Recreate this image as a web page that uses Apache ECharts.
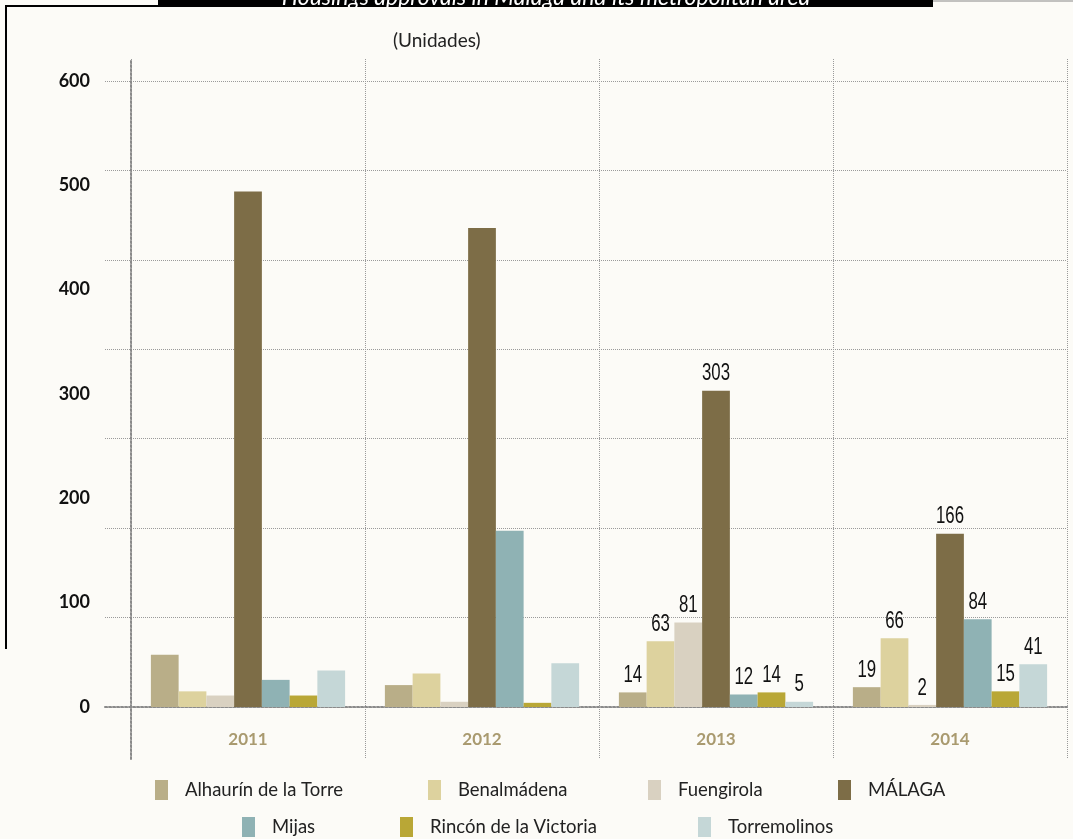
<!DOCTYPE html>
<html>
<head>
<meta charset="utf-8">
<script src="https://cdn.jsdelivr.net/npm/echarts@6/dist/echarts.min.js"></script>
<style>
html,body{margin:0;padding:0;background:#fcfbf7;}
#chart{width:1073px;height:839px;}
</style>
</head>
<body>
<div id="chart"></div>
<script>
// ---- data ----
var categories = ['2011', '2012', '2013', '2014'];
var seriesNames = ['Alhaurín de la Torre', 'Benalmádena', 'Fuengirola', 'MÁLAGA', 'Mijas', 'Rincón de la Victoria', 'Torremolinos'];
var alhaurin = [50, 21, 14, 19];
var benalmadena = [15, 32, 63, 66];
var fuengirola = [11, 5, 81, 2];
var malaga = [494, 459, 303, 166];
var mijas = [26, 169, 12, 84];
var rincon = [11, 4, 14, 15];
var torremolinos = [35, 42, 5, 41];
var labelledYears = ['2013', '2014'];
var yTicks = [0, 100, 200, 300, 400, 500, 600];

var colors = ['#b9ae88', '#ddd29e', '#d9d1c1', '#7d6d47', '#8fb2b4', '#b9a736', '#c5d7d7'];
var values = [alhaurin, benalmadena, fuengirola, malaga, mijas, rincon, torremolinos];
var BAR_CAT_GAP = 0.17;

var chart = echarts.init(document.getElementById('chart'), null, {renderer: 'canvas'});

var dotted = {type: 'dotted', color: '#9a9a9a', width: 1};

var series = values.map(function (arr, si) {
  return {
    name: seriesNames[si],
    type: 'bar',
    xAxisIndex: 2,
    yAxisIndex: 2,
    barGap: '0%',
    barCategoryGap: (BAR_CAT_GAP * 100) + '%',
    itemStyle: {color: colors[si]},
    data: arr
  };
});

// value labels (narrow digits) for the labelled years, drawn with a custom series
var labelData = [];
values.forEach(function (arr, si) {
  arr.forEach(function (v, ci) {
    if (labelledYears.indexOf(categories[ci]) >= 0) labelData.push([ci, v, si]);
  });
});
series.push({
  type: 'custom',
  xAxisIndex: 2,
  yAxisIndex: 2,
  silent: true,
  z: 5,
  data: labelData,
  renderItem: function (params, api) {
    var ci = api.value(0), v = api.value(1), si = api.value(2);
    var pt = api.coord([ci, v]);
    var band = api.size([1, 0])[0];
    var barW = band * (1 - BAR_CAT_GAP) / values.length;
    var x = pt[0] + (si - (values.length - 1) / 2) * barW;
    return {
      type: 'text',
      x: x,
      y: pt[1] - 5,
      scaleX: 0.7,
      style: {
        text: String(v),
        fill: '#111',
        fontSize: 24,
        fontFamily: "'Liberation Sans', Arial, sans-serif",
        textAlign: 'center',
        textVerticalAlign: 'bottom'
      }
    };
  }
});

// legend positions: [left, top]
var legendPos = [[155, 780], [428, 780], [648, 780], [838, 780], [242, 817], [400, 817], [698, 817]];
var legends = seriesNames.map(function (n, i) {
  return {
    data: [n],
    left: legendPos[i][0],
    top: legendPos[i][1],
    padding: 0,
    icon: 'rect',
    itemWidth: 13,
    itemHeight: 20,
    selectedMode: false,
    textStyle: {fontSize: 18.5, color: '#222', fontFamily: 'Lato, sans-serif', padding: [0, 0, 0, 12]}
  };
});

var option = {
  backgroundColor: '#fcfbf7',
  animation: false,
  legend: legends,
  grid: [
    {left: 105, right: 6, top: 81, bottom: 132},   // horizontal grid lines
    {left: 131, right: 6, top: 59, bottom: 80},    // vertical grid lines
    {left: 131, right: 6, top: 81, bottom: 132}    // bars
  ],
  xAxis: [
    {gridIndex: 0, type: 'value', min: 0, max: 1, show: true,
     axisLine: {show: true, lineStyle: {type: 'dotted', color: '#8a8a8a', width: 2}},
     axisTick: {show: false}, axisLabel: {show: false}, splitLine: {show: false}},
    {gridIndex: 1, type: 'category', data: categories, boundaryGap: true,
     axisLine: {show: false}, axisTick: {show: false}, axisLabel: {show: false},
     splitLine: {show: true, lineStyle: dotted}},
    {gridIndex: 2, type: 'category', data: categories,
     axisLine: {show: false}, axisTick: {show: false},
     axisLabel: {color: '#a99a6f', fontSize: 17, fontWeight: 'bold', fontFamily: 'Lato, sans-serif', margin: 24},
     splitLine: {show: false}}
  ],
  yAxis: [
    {gridIndex: 0, type: 'value', min: 0, max: 7, interval: 1,
     axisLine: {show: false}, axisTick: {show: false}, axisLabel: {show: false},
     splitLine: {show: true, lineStyle: dotted}},
    {gridIndex: 1, type: 'value', min: 0, max: 1,
     axisLine: {show: true, lineStyle: {type: 'dotted', color: '#8a8a8a', width: 2}},
     axisTick: {show: false}, axisLabel: {show: false}, splitLine: {show: false}},
    {gridIndex: 2, type: 'value', min: yTicks[0], max: yTicks[yTicks.length - 1], interval: 100,
     axisLine: {show: false}, axisTick: {show: false}, splitLine: {show: false},
     axisLabel: {color: '#111', fontSize: 18, fontWeight: 'bold', fontFamily: 'Lato, sans-serif', margin: 41, padding: [5, 0, 0, 0]}}
  ],
  graphic: [
    {type: 'rect', shape: {x: 158, y: 0, width: 775, height: 7}, style: {fill: '#000'}},
    {type: 'text', x: 546, y: 9.5, style: {text: 'Housings approvals in Málaga and its metropolitan area', fill: '#fff', fontSize: 23, fontStyle: 'italic', fontFamily: 'Lato, sans-serif', textAlign: 'center', textVerticalAlign: 'bottom'}},
    {type: 'rect', shape: {x: 0, y: 7, width: 1073, height: 25}, style: {fill: '#fcfbf7'}},
    {type: 'line', shape: {x1: 6, y1: 5, x2: 6, y2: 649}, style: {stroke: '#000', lineWidth: 2}},
    {type: 'line', shape: {x1: 6, y1: 6, x2: 160, y2: 6}, style: {stroke: '#000', lineWidth: 2}},
    {type: 'line', shape: {x1: 933, y1: 1, x2: 1073, y2: 1}, style: {stroke: '#888', lineWidth: 1}},
    {type: 'text', x: 393, y: 41, style: {text: '(Unidades)', fill: '#222', fontSize: 19, fontFamily: 'Lato, sans-serif', textAlign: 'left', textVerticalAlign: 'middle'}}
  ],
  series: series
};
chart.setOption(option);
</script>
</body>
</html>
